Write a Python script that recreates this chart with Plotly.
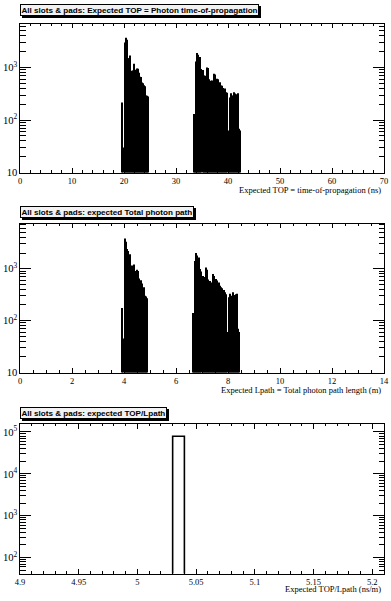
import numpy as np
import plotly.graph_objects as go

# ---------------- data ----------------
# Panel 1: expected TOP (ns), bin width 0.2 ns
top_width = 0.2
top_a_start = 19.6
top_a_counts = [215, 30, 3000, 3700, 3400, 1500, 1500, 1700, 46, 870, 880, 1180,
                910, 900, 960, 950, 800, 670, 660, 520, 500, 460, 440, 295, 290, 280]
top_b_start = 33.4
top_b_counts = [130, 40, 1300, 1900, 1750, 140, 1590, 940, 900, 705, 700, 610,
                1000, 980, 600, 340, 560, 565, 130, 760, 740, 565, 610, 600, 490,
                525, 455, 450, 410, 41, 400, 340, 330, 63, 270, 325, 295, 290,
                340, 320, 295, 310, 325, 68, 63]

# Panel 2: expected total photon path (m), bin width 0.04 m
path_width = 0.04
path_a_start = 3.92
path_a_counts = [175, 45, 3800, 3300, 2400, 2200, 1000, 1900, 50, 1150, 1000, 1200,
                 900, 700, 950, 900, 650, 460, 600, 520, 420, 440, 300, 290, 270]
path_b_start = 6.64
path_b_counts = [140, 45, 1400, 2000, 1800, 150, 1650, 980, 880, 720, 690, 640,
                 1050, 950, 620, 360, 580, 540, 120, 790, 720, 580, 630, 590, 500,
                 540, 470, 440, 420, 45, 390, 350, 320, 60, 280, 330, 300, 280,
                 350, 310, 300, 320, 330, 70, 60]

# Panel 3: expected TOP/Lpath (ns/m)
ratio_bin_low = [5.03]
ratio_width = 0.01
ratio_counts = [79000]

ratio_tickvals = [4.9, 4.95, 5.0, 5.05, 5.1, 5.15, 5.2]
ratio_ticktext = ["4.9", "4.95", "5", "5.05", "5.1", "5.15", "5.2"]

titles = ["All slots &amp; pads: Expected TOP = Photon time-of-propagation",
          "All slots &amp; pads: expected Total photon path",
          "All slots &amp; pads: expected TOP/Lpath"]
xtitles = ["Expected TOP = time-of-propagation (ns)",
           "Expected Lpath = Total photon path length (m)",
           "Expected TOP/Lpath (ns/m)"]

# ---------------- figure ----------------
W, H = 391, 601
fig = go.Figure()


def centers(start, width, n):
    return start + width * (np.arange(n) + 0.5)


def add_hist(start, width, counts, xa, ya):
    fig.add_trace(go.Bar(x=centers(start, width, len(counts)), y=counts, width=width,
                         marker=dict(color="black", line=dict(width=0)),
                         xaxis=xa, yaxis=ya, showlegend=False, hoverinfo="x+y"))


add_hist(top_a_start, top_width, top_a_counts, "x", "y")
add_hist(top_b_start, top_width, top_b_counts, "x", "y")
add_hist(path_a_start, path_width, path_a_counts, "x2", "y2")
add_hist(path_b_start, path_width, path_b_counts, "x2", "y2")
fig.add_trace(go.Bar(x=[v + ratio_width / 2 for v in ratio_bin_low], y=ratio_counts,
                     width=ratio_width,
                     marker=dict(color="white", line=dict(color="black", width=1.6)),
                     xaxis="x3", yaxis="y3", showlegend=False))

xdom = [20 / W, 384 / W]


def ydom(top_px, bot_px):
    return [(H - bot_px) / H, (H - top_px) / H]


tickfont = dict(family="Liberation Serif", size=8.5, color="black")

common_x = dict(showline=True, linecolor="black", linewidth=1, mirror="ticks",
                ticks="inside", ticklen=4.5, tickwidth=1, tickcolor="black",
                showgrid=False, zeroline=False, tickfont=tickfont, domain=xdom,
                automargin=False)
common_y = dict(type="log", showline=True, linecolor="black", linewidth=1,
                mirror="ticks", ticks="inside", ticklen=11, tickwidth=1,
                tickcolor="black", showgrid=False, zeroline=False, tickfont=tickfont,
                dtick=1, exponentformat="power", automargin=False,
                minor=dict(ticks="inside", ticklen=5.5, dtick="D1",
                           tickcolor="black", tickwidth=1, showgrid=False))

fig.update_layout(
    width=W, height=H, margin=dict(l=0, r=0, t=0, b=0, autoexpand=False),
    paper_bgcolor="white", plot_bgcolor="white", barmode="overlay",
    xaxis=dict(common_x, anchor="y", range=[0, 70], tick0=0, dtick=10,
               minor=dict(ticks="inside", ticklen=2.3, dtick=2, tickcolor="black")),
    yaxis=dict(common_y, anchor="x", domain=ydom(23.5, 172.5), range=[1, 3.84]),
    xaxis2=dict(common_x, anchor="y2", range=[0, 14], tick0=0, dtick=2,
                minor=dict(ticks="inside", ticklen=2.3, dtick=0.5, tickcolor="black")),
    yaxis2=dict(common_y, anchor="x2", domain=ydom(223.5, 372.5), range=[1, 3.87]),
    xaxis3=dict(common_x, anchor="y3", range=[4.9, 5.21], tickvals=ratio_tickvals,
                ticktext=ratio_ticktext,
                minor=dict(ticks="inside", ticklen=2.3, dtick=0.01, tick0=4.9,
                           tickcolor="black")),
    yaxis3=dict(common_y, anchor="x3", domain=ydom(424, 573.5), range=[1.62, 5.19]),
)

title_y = [10.5, 211.5, 413]
xtitle_y = [190, 390, 589]
for t, ty, xt, xy in zip(titles, title_y, xtitles, xtitle_y):
    # shadow
    fig.add_annotation(x=20 / W, y=(H - ty) / H, xref="paper", yref="paper",
                       xanchor="left", yanchor="middle", showarrow=False,
                       text="<b>" + t + "</b>", xshift=2, yshift=-2,
                       font=dict(family="Liberation Sans", size=8.1, color="black"),
                       bgcolor="black", bordercolor="black", borderwidth=1, borderpad=0.5)
    fig.add_annotation(x=20 / W, y=(H - ty) / H, xref="paper", yref="paper",
                       xanchor="left", yanchor="middle", showarrow=False,
                       text="<b>" + t + "</b>",
                       font=dict(family="Liberation Sans", size=8.1, color="black"),
                       bgcolor="#f2f2f2", bordercolor="black", borderwidth=1, borderpad=0.5)
    fig.add_annotation(x=383 / W, y=(H - xy) / H, xref="paper", yref="paper",
                       xanchor="right", yanchor="middle", showarrow=False, text=xt,
                       font=dict(family="Liberation Serif", size=8.5, color="black"))

fig.write_html("out.html",
               config={"displayModeBar": False},
               post_script="document.body.style.margin='0';"
                           "document.body.style.overflow='hidden';")
